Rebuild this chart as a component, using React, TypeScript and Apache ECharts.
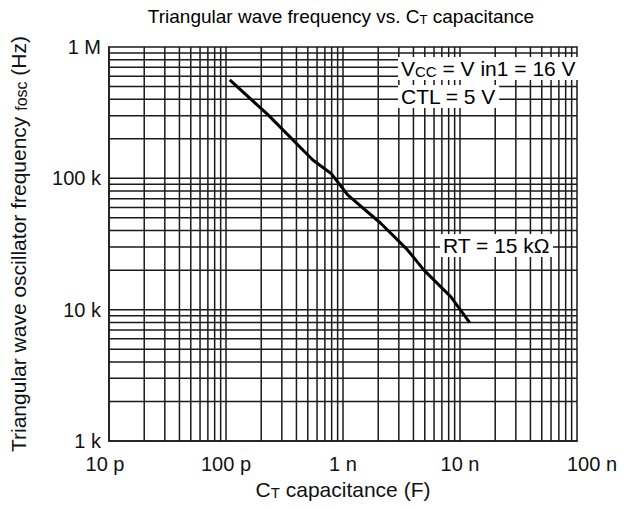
import React, { useEffect, useRef } from "react";
import * as echarts from "echarts";

// Curve: triangular wave frequency vs CT capacitance (RT = 15 kΩ)
const capacitance = [1.077e-10, 2.29e-10, 5.52e-10, 7.91e-10, 1.096e-9, 2.1e-9, 3.56e-9, 4.92e-9, 8.3e-9, 1.21e-8];
const frequency = [561000, 304000, 138000, 109000, 74800, 45500, 28500, 20000, 12600, 7960];

const xTickValues = [1e-11, 1e-10, 1e-9, 1e-8, 1e-7];
const xTickLabels = ["10 p", "100 p", "1 n", "10 n", "100 n"];
const yTickValues = [1e3, 1e4, 1e5, 1e6];
const yTickLabels = ["1 k", "10 k", "100 k", "1 M"];
const gridMantissas = [1, 2, 3, 4, 5, 6, 7, 8, 9];

const FONT = "'Liberation Sans', Arial, sans-serif";

function gridValues(decades: number[]): number[] {
  const out: number[] = [];
  for (let i = 0; i < decades.length - 1; i++) {
    for (const m of gridMantissas) {
      if (i === 0 && m === 1) continue;
      out.push(m * decades[i]);
    }
  }
  return out;
}

function labelFor(values: number[], labels: string[], shiftEnds: boolean) {
  return (v: number) => {
    const i = values.findIndex((t) => Math.abs(Math.log10(t) - Math.log10(v)) < 1e-6);
    if (i < 0) return "";
    if (shiftEnds && i === values.length - 1) return "{last|" + labels[i] + "}";
    if (shiftEnds && i === 0) return "{first|" + labels[i] + "}";
    return labels[i];
  };
}

export default function App() {
  const ref = useRef<HTMLDivElement>(null);
  useEffect(() => {
    if (!ref.current) return;
    const chart = echarts.init(ref.current, null, { renderer: "svg" });
    const gridColor = "#1a1a1a";
    const base = { fontSize: 20, fontFamily: FONT, color: "#111" };
    const sub = { fontSize: 14, fontFamily: FONT, color: "#111", verticalAlign: "bottom" as const };
    const xMin = xTickValues[0];
    const xMax = xTickValues[xTickValues.length - 1];
    const yMin = yTickValues[0];
    const yMax = yTickValues[yTickValues.length - 1];
    const gridLineStyle = { color: gridColor, width: 1.5 };
    const vLines = gridValues(xTickValues).map((v) => ({
      type: "line",
      data: [
        [v, yMin],
        [v, yMax],
      ],
      symbol: "none",
      silent: true,
      z: 1,
      lineStyle: gridLineStyle,
    }));
    const hLines = gridValues(yTickValues).map((v) => ({
      type: "line",
      data: [
        [xMin, v],
        [xMax, v],
      ],
      symbol: "none",
      silent: true,
      z: 1,
      lineStyle: gridLineStyle,
    }));
    const labelStyle = { fontSize: 20, fontFamily: FONT, color: "#111" };
    chart.setOption({
      animation: false,
      backgroundColor: "#fff",
      grid: {
        left: 107,
        top: 47,
        width: 470,
        height: 394,
        show: true,
        borderColor: gridColor,
        borderWidth: 1.5,
        backgroundColor: "transparent",
      },
      xAxis: {
        type: "log",
        logBase: 10,
        min: xMin,
        max: xMax,
        axisLine: { show: true, lineStyle: { color: gridColor, width: 1.5 } },
        axisTick: { show: false },
        splitLine: { show: false },
        minorTick: { show: false },
        axisLabel: {
          formatter: labelFor(xTickValues, xTickLabels, true),
          ...labelStyle,
          margin: 13,
          rich: {
            last: { ...labelStyle, padding: [0, 0, 0, 30] },
            first: { ...labelStyle, padding: [0, 8, 0, 0] },
          },
        },
        name: "{a|C}{b|T}{a| capacitance (F)}",
        nameLocation: "middle",
        nameGap: 37,
        nameTextStyle: {
          rich: { a: { ...base, fontSize: 21 }, b: { ...sub, fontSize: 15 } },
        },
      },
      yAxis: {
        type: "log",
        logBase: 10,
        min: yMin,
        max: yMax,
        axisLine: { show: true, lineStyle: { color: gridColor, width: 1.5 } },
        axisTick: { show: false },
        splitLine: { show: false },
        minorTick: { show: false },
        axisLabel: {
          formatter: labelFor(yTickValues, yTickLabels, false),
          ...labelStyle,
          margin: 8,
        },
        name: "{a|Triangular wave oscillator frequency }{b|fosc}{a| (Hz)}",
        nameLocation: "middle",
        nameRotate: 90,
        nameGap: 80,
        nameTextStyle: {
          rich: { a: { ...base, fontSize: 21 }, b: { ...sub, fontSize: 16 } },
        },
      },
      series: [
        ...vLines,
        ...hLines,
        {
          type: "line",
          data: capacitance.map((c, i) => [c, frequency[i]]),
          showSymbol: false,
          symbol: "none",
          z: 5,
          lineStyle: { color: "#000", width: 3 },
        },
      ],
      graphic: [
        {
          type: "text",
          x: 341,
          y: 7,
          z: 100,
          style: {
            text: "{a|Triangular wave frequency vs. C}{b|T}{a| capacitance}",
            align: "center",
            verticalAlign: "top",
            rich: { a: { ...base, fontSize: 19 }, b: { ...sub, fontSize: 13 } },
          },
        },
        {
          type: "text",
          x: 398,
          y: 57,
          z: 100,
          style: {
            text: "{a|V}{b|CC}{a| = V in1 = 16 V}",
            backgroundColor: "#fff",
            padding: [1, 3, 1, 3],
            rich: { a: { ...base, fontSize: 21 }, b: { ...sub, fontSize: 15 } },
          },
        },
        {
          type: "text",
          x: 398,
          y: 85,
          z: 100,
          style: {
            text: "{a|CTL = 5 V}",
            backgroundColor: "#fff",
            padding: [1, 3, 1, 3],
            rich: { a: { ...base, fontSize: 21 } },
          },
        },
        {
          type: "text",
          x: 440,
          y: 234,
          z: 100,
          style: {
            text: "{a|RT = 15 kΩ}",
            backgroundColor: "#fff",
            padding: [1, 3, 1, 3],
            rich: { a: { ...base, fontSize: 21 } },
          },
        },
      ],
    });
    return () => chart.dispose();
  }, []);
  return (
    <div
      ref={ref}
      style={{ position: "fixed", left: 0, top: 0, width: 634, height: 510, background: "#fff" }}
    />
  );
}
